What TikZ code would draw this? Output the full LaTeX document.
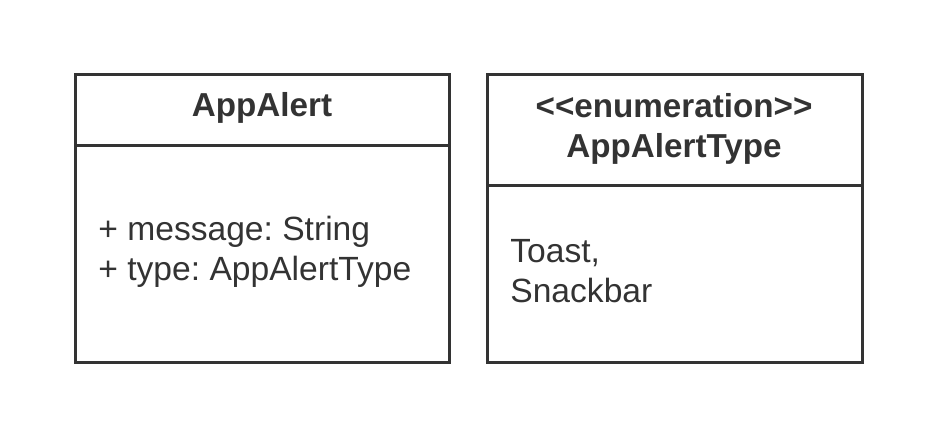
\documentclass[tikz,border=0pt]{standalone}
\usepackage{fontspec}
\setmainfont{Liberation Sans}
\frenchspacing
\definecolor{umlgray}{HTML}{333333}
\tikzset{
  umlbox/.style={draw=umlgray, line width=1.5pt},
  umltitle/.style={text=umlgray, font=\bfseries\fontsize{16.6}{20}\selectfont, align=center, inner sep=0pt},
  umlattr/.style={text=umlgray, font=\fontsize{16.8}{20}\selectfont, align=left, anchor=west, inner sep=0pt}
}
\begin{document}
\begin{tikzpicture}[x=0.5pt, y=-0.5pt]
		\useasboundingbox (0,0) rectangle (938,439);
		% class AppAlert
		\draw[umlbox] (75,74) rectangle (449,362);
		\draw[umlbox] (75,145) -- (449,145);
		\node[umltitle] (alerttitle) at (262,108) {AppAlert};
		\node[umlattr] (alertattr) at (98,252) {+ message: String\\+ type: AppAlertType};
		% enumeration AppAlertType
		\draw[umlbox] (487,74) rectangle (862,362);
		\draw[umlbox] (487,185) -- (862,185);
		\node[umltitle] (typetitle) at (674,129) {<{}<enumeration>{}>\\AppAlertType};
		\node[umlattr] (typevalues) at (510,271) {Toast,\\Snackbar};
	\end{tikzpicture}
\end{document}
